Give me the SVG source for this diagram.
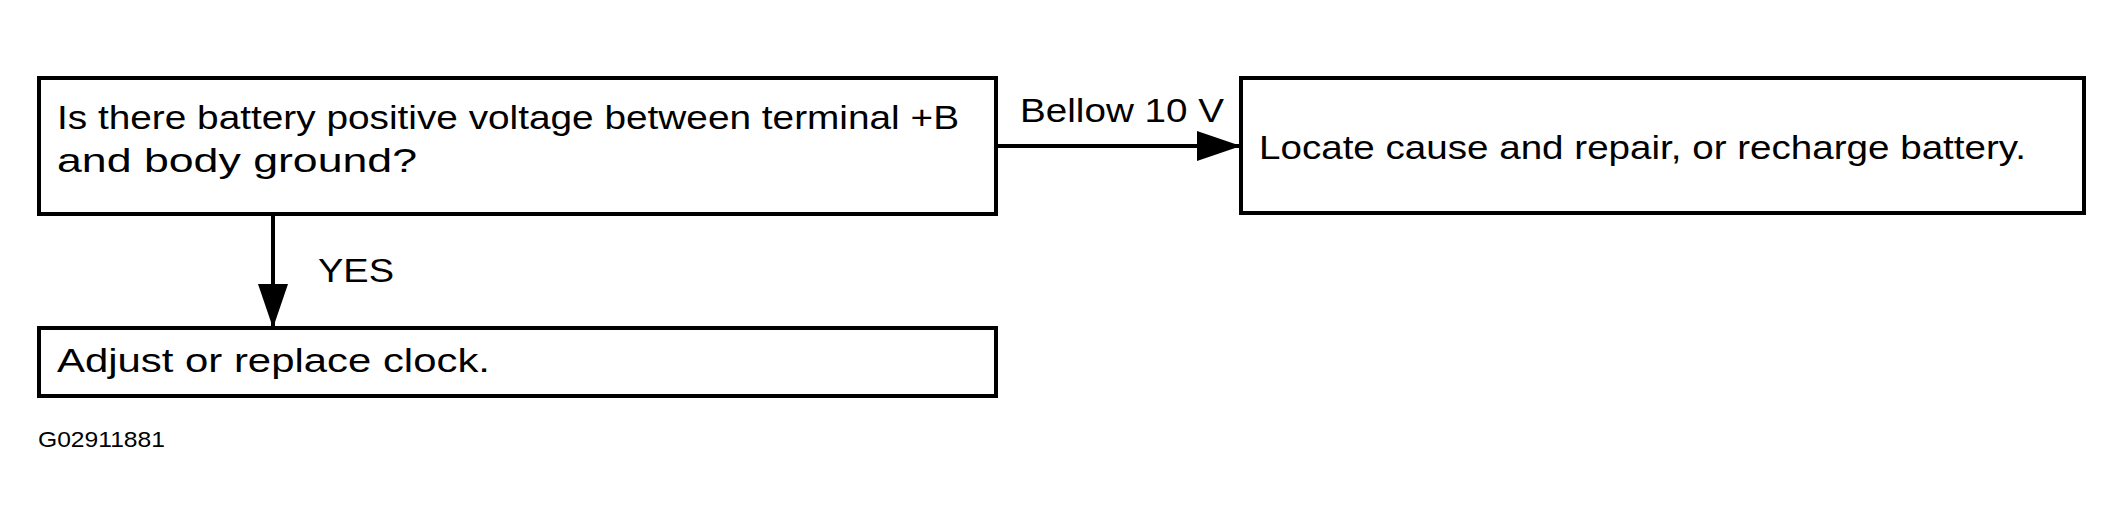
<svg xmlns="http://www.w3.org/2000/svg" width="2124" height="515" viewBox="0 0 2124 515">
<style>
rect{fill:#fff;stroke:#000;stroke-width:4}
text{font-family:"Liberation Sans",Arial,sans-serif;font-size:34px;fill:#000}
.c{stroke:#000;stroke-width:4;fill:none}
</style>
<defs><marker id="a" markerUnits="userSpaceOnUse" markerWidth="46" markerHeight="30" refX="44" refY="15" orient="auto"><path d="M0,0L44,15L0,30Z" fill="#000"/></marker></defs>
<rect width="2124" height="515" style="stroke:none"/>
<g id="n1"><rect x="39" y="78" width="957" height="136"/>
<text x="57" y="129" textLength="902" lengthAdjust="spacingAndGlyphs">Is there battery positive voltage between terminal +B</text>
<text x="57" y="172" textLength="360" lengthAdjust="spacingAndGlyphs">and body ground?</text></g>
<g id="n2"><rect x="1241" y="78" width="843" height="135"/>
<text x="1259" y="159" textLength="767" lengthAdjust="spacingAndGlyphs">Locate cause and repair, or recharge battery.</text></g>
<g id="n3"><rect x="39" y="328" width="957" height="68"/>
<text x="57" y="372" textLength="433" lengthAdjust="spacingAndGlyphs">Adjust or replace clock.</text></g>
<g id="connectors">
<path class="c" d="M996,146H1241" marker-end="url(#a)"/>
<path class="c" d="M273,214V328" marker-end="url(#a)"/>
<text x="1020" y="122" textLength="204" lengthAdjust="spacingAndGlyphs">Bellow 10 V</text>
<text x="318" y="282" textLength="76" lengthAdjust="spacingAndGlyphs">YES</text>
</g>
<text x="38" y="447" style="font-size:22px" textLength="127" lengthAdjust="spacingAndGlyphs">G02911881</text>
</svg>
